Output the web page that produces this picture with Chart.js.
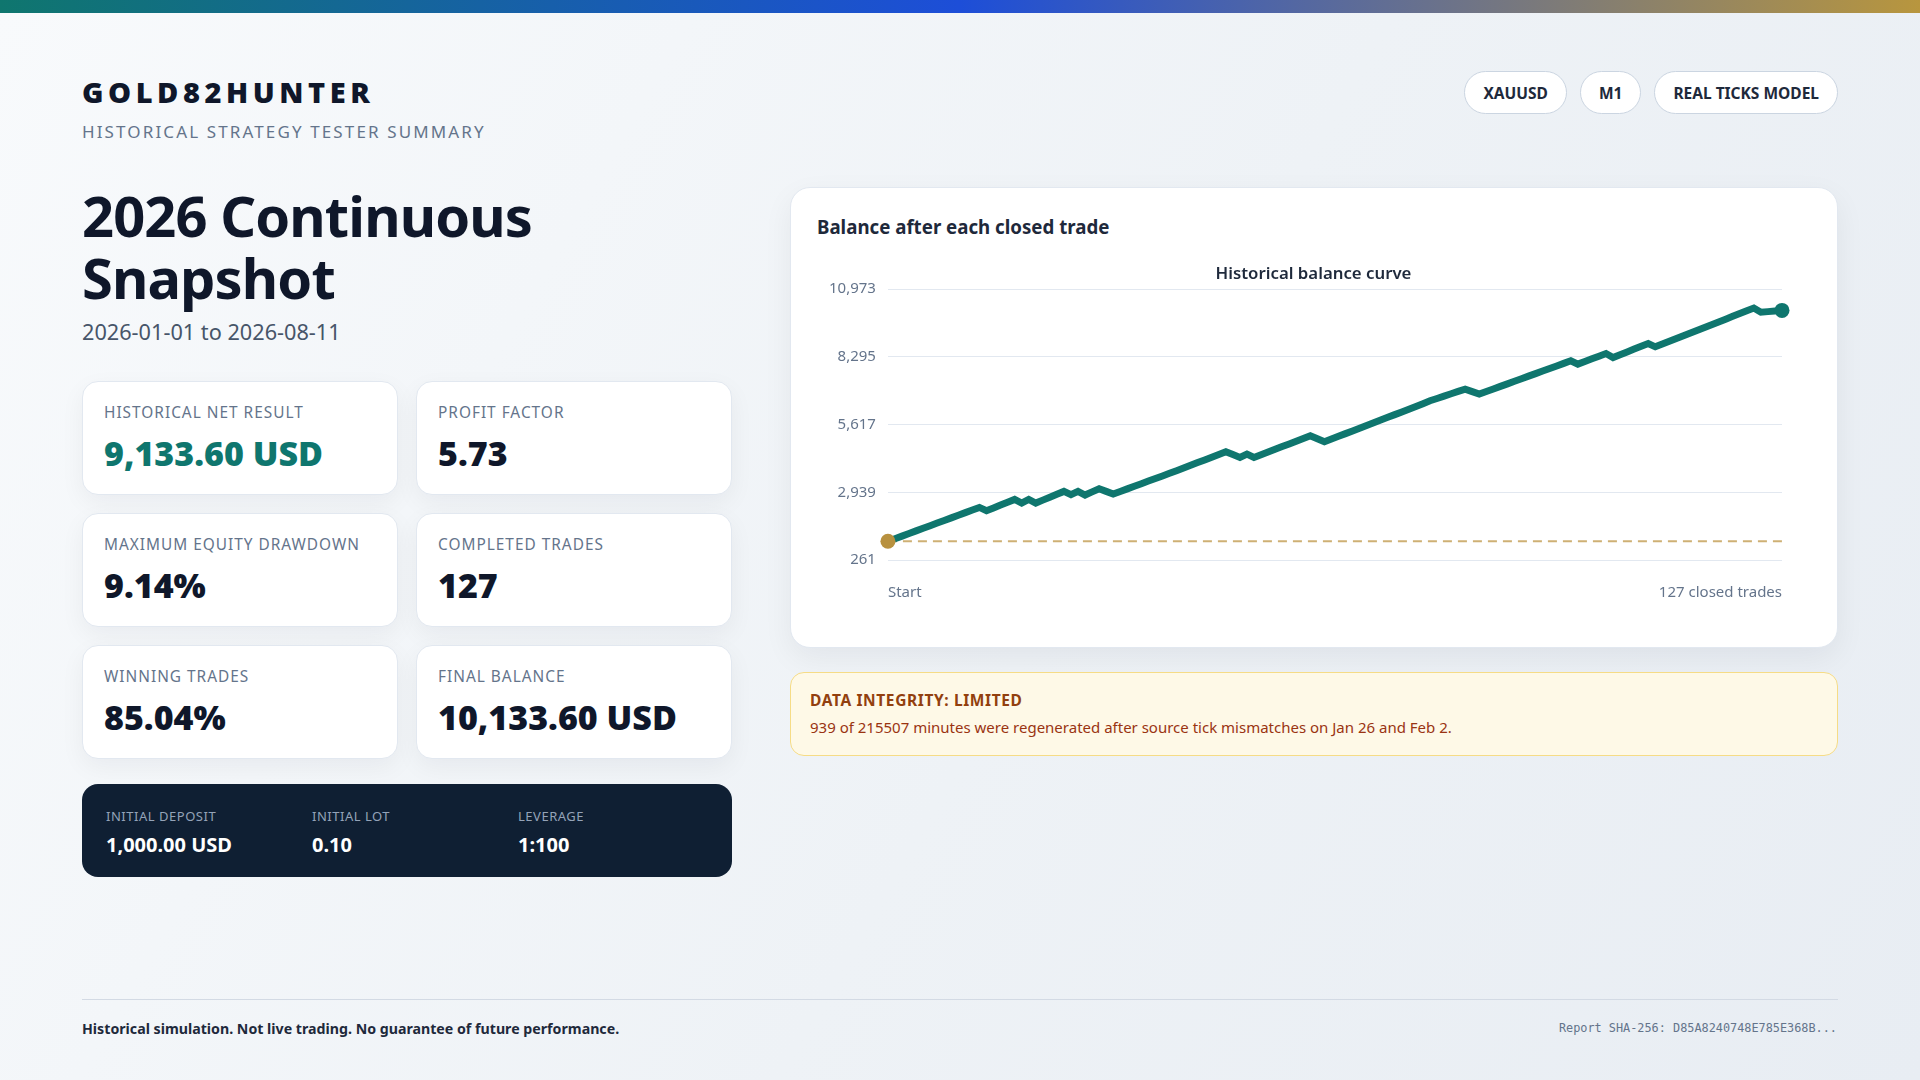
<!DOCTYPE html>
<html>
<head>
<meta charset="utf-8">
<script src="https://cdn.jsdelivr.net/npm/chart.js@4.4.1/dist/chart.umd.min.js"></script>
<style>
  html, body { margin: 0; padding: 0; }
  body {
    width: 1920px; height: 1080px; position: relative; overflow: hidden;
    font-family: 'Noto Sans', sans-serif;
    background: linear-gradient(120deg, #f8fafc 0%, #eef2f6 55%, #e8edf3 100%);
    color: #0f172a;
  }
  .topbar { position: absolute; left: 0; top: 0; width: 1920px; height: 13px;
    background: linear-gradient(90deg, #0f766e 0%, #1d4ed8 50%, #b8963e 100%); }
  .abs { position: absolute; line-height: 1; white-space: nowrap; }
  .brand { left: 82px; top: 77px; font-family: 'Open Sans', 'Noto Sans', sans-serif; font-size: 29px; font-weight: 800; letter-spacing: 0.157em; color: #0f172a; }
  .sub { left: 82px; top: 123px; font-size: 17px; letter-spacing: 0.125em; color: #64748b; }
  .tags { position: absolute; right: 82px; top: 71px; display: flex; gap: 13px; }
  .tag { height: 41px; padding: 0 18px; border: 1px solid #cbd5e1; border-radius: 999px; background: #fff;
    display: flex; align-items: center; font-size: 15.5px; font-weight: 700; color: #1e293b; }
  h1 { position: absolute; left: 82px; top: 185px; width: 650px; margin: 0; font-size: 56px; line-height: 1.1;
    font-weight: 700; color: #0f172a; letter-spacing: -0.016em; }
  .date { left: 82px; top: 321px; font-size: 21.7px; color: #475569; }
  .card { position: absolute; width: 316px; height: 114px; box-sizing: border-box; background: #fff;
    border: 1px solid #e2e8f0; border-radius: 16px; box-shadow: 0 8px 24px rgba(15,23,42,0.05); }
  .card .lab { position: absolute; left: 21px; top: 23px; font-size: 15.4px; letter-spacing: 0.065em; color: #64748b; line-height: 1; white-space: nowrap; }
  .card .val { position: absolute; left: 21px; top: 54px; font-family: 'Open Sans', 'Noto Sans', sans-serif; font-size: 34px; font-weight: 800; color: #0f172a; line-height: 1; white-space: nowrap; }
  .card .val.teal { color: #0f766e; }
  .dark { position: absolute; left: 82px; top: 784px; width: 650px; height: 93px; background: #0f1f33; border-radius: 16px; }
  .dark .l { position: absolute; top: 26px; font-size: 13px; letter-spacing: 0.04em; color: #94a3b8; line-height: 1; white-space: nowrap; }
  .dark .v { position: absolute; top: 51px; font-size: 20px; font-weight: 700; color: #fff; line-height: 1; white-space: nowrap; }
  .chartcard { position: absolute; left: 790px; top: 187px; width: 1048px; height: 461px; box-sizing: border-box;
    background: #fff; border: 1px solid #e2e8f0; border-radius: 20px; box-shadow: 0 10px 30px rgba(15,23,42,0.06); }
  .chartcard .h { position: absolute; left: 26px; top: 30px; font-size: 18.7px; font-weight: 700; color: #1e293b; line-height: 1; white-space: nowrap; }
  .chartwrap { position: absolute; left: 26px; top: 68px; width: 993px; height: 370px; }
  .warn { position: absolute; left: 790px; top: 672px; width: 1048px; height: 84px; box-sizing: border-box;
    background: #fef9e7; border: 1px solid #f6dc86; border-radius: 14px; }
  .warn .t { position: absolute; left: 19px; top: 20px; font-size: 15.5px; font-weight: 700; letter-spacing: 0.04em; color: #92400e; line-height: 1; white-space: nowrap; }
  .warn .b { position: absolute; left: 19px; top: 47px; font-size: 15px; color: #9a3412; line-height: 1; white-space: nowrap; }
  .rule { position: absolute; left: 82px; top: 999px; width: 1756px; height: 1px; background: #d3dae4; }
  .foot { left: 82px; top: 1022px; font-size: 14.2px; font-weight: 700; color: #1e293b; }
  .sha { right: 83px; top: 1023px; font-size: 11.85px; font-family: 'DejaVu Sans Mono', monospace; color: #64748b; }
</style>
</head>
<body>
<div class="topbar"></div>
<div class="abs brand">GOLD82HUNTER</div>
<div class="abs sub">HISTORICAL STRATEGY TESTER SUMMARY</div>
<div class="tags"><div class="tag">XAUUSD</div><div class="tag">M1</div><div class="tag">REAL TICKS MODEL</div></div>

<h1>2026 Continuous Snapshot</h1>
<div class="abs date">2026-01-01 to 2026-08-11</div>

<div class="card" style="left:82px;top:381px"><div class="lab">HISTORICAL NET RESULT</div><div class="val teal">9,133.60 USD</div></div>
<div class="card" style="left:416px;top:381px"><div class="lab">PROFIT FACTOR</div><div class="val">5.73</div></div>
<div class="card" style="left:82px;top:513px"><div class="lab">MAXIMUM EQUITY DRAWDOWN</div><div class="val">9.14%</div></div>
<div class="card" style="left:416px;top:513px"><div class="lab">COMPLETED TRADES</div><div class="val">127</div></div>
<div class="card" style="left:82px;top:645px"><div class="lab">WINNING TRADES</div><div class="val">85.04%</div></div>
<div class="card" style="left:416px;top:645px"><div class="lab">FINAL BALANCE</div><div class="val">10,133.60 USD</div></div>

<div class="dark">
  <div class="l" style="left:24px">INITIAL DEPOSIT</div><div class="v" style="left:24px">1,000.00 USD</div>
  <div class="l" style="left:230px">INITIAL LOT</div><div class="v" style="left:230px">0.10</div>
  <div class="l" style="left:436px">LEVERAGE</div><div class="v" style="left:436px">1:100</div>
</div>

<div class="chartcard">
  <div class="h">Balance after each closed trade</div>
  <div class="chartwrap"><canvas id="c"></canvas></div>
</div>

<div class="warn">
  <div class="t">DATA INTEGRITY: LIMITED</div>
  <div class="b">939 of 215507 minutes were regenerated after source tick mismatches on Jan 26 and Feb 2.</div>
</div>

<div class="rule"></div>
<div class="abs foot">Historical simulation. Not live trading. No guarantee of future performance.</div>
<div class="abs sha">Report SHA-256: D85A8240748E785E368B...</div>

<script>
// ---- data ----
const initialDeposit = 1000;
const balance = [
  1000, 1103, 1206, 1309, 1412, 1515, 1618, 1722, 1825, 1928,
  2031, 2134, 2237, 2340, 2210, 2322, 2434, 2545, 2657, 2514,
  2657, 2514, 2629, 2744, 2858, 2973, 2842, 2973, 2830, 2955,
  3080, 2975, 2870, 2972, 3075, 3177, 3279, 3382, 3484, 3586,
  3689, 3791, 3898, 4006, 4113, 4220, 4327, 4435, 4542, 4430,
  4317, 4451, 4317, 4424, 4532, 4639, 4746, 4853, 4961, 5068,
  5175, 5056, 4937, 5044, 5152, 5259, 5367, 5474, 5581, 5689,
  5796, 5904, 6011, 6118, 6226, 6333, 6445, 6558, 6650, 6743,
  6835, 6928, 7020, 6922, 6823, 6924, 7026, 7127, 7228, 7329,
  7431, 7532, 7633, 7734, 7836, 7937, 8038, 8139, 8009, 8114,
  8219, 8323, 8428, 8270, 8381, 8491, 8602, 8712, 8823, 8693,
  8802, 8912, 9021, 9131, 9240, 9349, 9459, 9568, 9678, 9787,
  9897, 10006, 10115, 10225, 10060, 10085, 10110, 10133.6
];
const xTickLabels = ['Start', '127 closed trades'];
const yTicks = [261, 2939, 5617, 8295, 10973];

// ---- chart ----
const tradeIndex = balance.map((_, i) => i);
const lastIdx = balance.length - 1;
Chart.defaults.font.family = "'Noto Sans', sans-serif";

const baselinePlugin = {
  id: 'baseline',
  beforeDatasetsDraw(chart) {
    const { ctx, chartArea, scales } = chart;
    const y = scales.y.getPixelForValue(initialDeposit);
    ctx.save();
    ctx.setLineDash([9, 6]);
    ctx.lineWidth = 2;
    ctx.strokeStyle = 'rgba(190,150,70,0.75)';
    ctx.beginPath();
    ctx.moveTo(chartArea.left, y);
    ctx.lineTo(chartArea.right, y);
    ctx.stroke();
    ctx.restore();
  }
};

// centre the title over the whole canvas width
const titleCenterPlugin = {
  id: 'titleCenter',
  afterLayout(chart) {
    const t = chart.titleBlock;
    if (t) { t.left = 0; t.right = chart.width; t.width = chart.width; }
  }
};

new Chart(document.getElementById('c'), {
  type: 'line',
  data: {
    labels: tradeIndex,
    datasets: [{
      data: balance,
      borderColor: '#0f766e',
      borderWidth: 7,
      tension: 0,
      fill: false,
      clip: false,
      pointRadius: ctx => (ctx.dataIndex === 0 || ctx.dataIndex === lastIdx) ? 7.5 : 0,
      pointHoverRadius: 0,
      pointBorderWidth: 0,
      pointBackgroundColor: ctx => ctx.dataIndex === 0 ? '#b8913f' : '#0f766e'
    }]
  },
  options: {
    responsive: true,
    maintainAspectRatio: false,
    animation: false,
    layout: { padding: { left: 0, right: 28, top: 0, bottom: 0 } },
    plugins: {
      legend: { display: false },
      tooltip: { enabled: false },
      title: {
        display: true, text: 'Historical balance curve', color: '#1e293b',
        font: { size: 16.8, weight: '600' }, padding: { top: 8, bottom: 5 }
      }
    },
    scales: {
      x: {
        type: 'category',
        grid: { display: false, drawTicks: false },
        border: { display: false },
        afterBuildTicks: axis => { axis.ticks = [{ value: 0 }, { value: lastIdx }]; },
        ticks: {
          autoSkip: false, maxRotation: 0, align: 'inner', padding: 24,
          color: '#64748b', font: { size: 15 },
          callback: (v, i) => xTickLabels[i]
        }
      },
      y: {
        min: yTicks[0], max: yTicks[yTicks.length - 1],
        grid: { color: '#e2e8f0', lineWidth: 1, drawTicks: false },
        border: { display: false },
        afterBuildTicks: axis => { axis.ticks = yTicks.map(v => ({ value: v })); },
        ticks: {
          padding: 12, color: '#64748b', font: { size: 15 },
          callback: v => Number(v).toLocaleString('en-US')
        }
      }
    }
  },
  plugins: [baselinePlugin, titleCenterPlugin]
});
</script>
</body>
</html>
